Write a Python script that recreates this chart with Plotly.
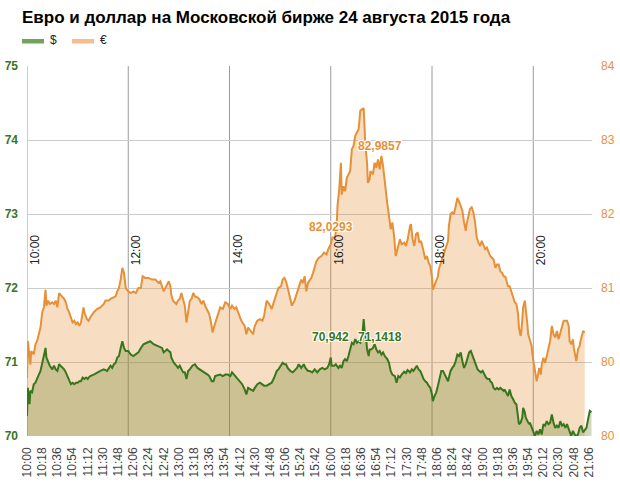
import pandas as pd
import plotly.graph_objects as go

TITLE = "Евро и доллар на Московской бирже 24 августа 2015 года"
DAY = "2015-08-24"
OPEN_TIME = "10:00"
END_TIME = "21:09:36"

# Euro/RUB: minutes after 10:00 and rate
EURO_MIN = [0, 1, 4, 5, 8, 10, 12, 14, 16, 18,
            20, 22, 23, 25, 27, 30, 32, 34, 36, 38,
            40, 42, 44, 46, 48, 50, 52, 54, 56, 58,
            60, 62, 64, 66, 67, 68, 71, 73, 75, 79,
            83, 87, 91, 93, 97, 99, 103, 105, 107, 109,
            111, 113, 115, 117, 120, 123, 126, 129, 132, 135,
            137, 140, 144, 148, 152, 156, 158, 160, 162, 166,
            168, 170, 171, 173, 177, 179, 181, 183, 185, 187,
            189, 191, 193, 195, 197, 199, 202, 204, 207, 209,
            211, 214, 216, 218, 220, 222, 225, 227, 229, 232,
            235, 238, 241, 243, 246, 248, 251, 254, 258, 260,
            262, 265, 268, 270, 273, 276, 279, 281, 284, 287,
            290, 293, 296, 298, 301, 303, 305, 307, 309, 312,
            314, 317, 320, 322, 325, 327, 329, 331, 333, 335,
            337, 339, 341, 343, 346, 349, 352, 355, 357, 360,
            362, 365, 367, 368, 370, 372, 373, 375, 377, 379,
            381, 383, 385, 387, 389, 391, 393, 394, 395, 398,
            399, 400, 401, 403, 404, 406, 407, 410, 412, 414,
            416, 418, 420, 422, 424, 425, 427, 429, 431, 433,
            435, 437, 440, 442, 444, 447, 449, 451, 454, 455,
            457, 459, 461, 463, 465, 467, 469, 471, 472, 474,
            476, 478, 480, 481, 483, 485, 487, 488, 491, 493,
            495, 496, 499, 500, 502, 504, 506, 508, 510, 512,
            514, 516, 518, 520, 521, 523, 525, 527, 529, 531,
            533, 535, 537, 539, 541, 543, 545, 547, 549, 551,
            553, 555, 557, 559, 561, 563, 565, 567, 568, 570,
            572, 574, 576, 578, 580, 582, 583, 585, 586, 588,
            590, 591, 593, 594, 596, 598, 599, 601, 602, 604,
            606, 607, 609, 610, 612, 614, 616, 618, 620, 622,
            624, 626, 628, 630, 632, 634, 636, 638, 640, 642,
            643, 645, 647, 648, 650, 651, 653, 655, 656, 658,
            659, 661]
EURO_RUB = [80.29, 80.73, 80.45, 80.61, 80.57, 80.69, 80.73, 80.81, 80.89, 81.07,
            81.13, 81.34, 81.15, 81.21, 81.17, 81.19, 81.17, 81.21, 81.13, 81.30,
            81.28, 81.26, 81.23, 81.19, 81.11, 81.07, 81.01, 80.95, 80.97, 80.93,
            80.95, 80.91, 80.95, 81.07, 81.13, 81.07, 80.99, 80.97, 81.01, 81.07,
            81.11, 81.13, 81.17, 81.21, 81.21, 81.23, 81.25, 81.26, 81.32, 81.36,
            81.46, 81.60, 81.54, 81.36, 81.32, 81.30, 81.32, 81.30, 81.36, 81.36,
            81.50, 81.48, 81.48, 81.46, 81.46, 81.42, 81.44, 81.38, 81.32, 81.40,
            81.44, 81.38, 81.28, 81.21, 81.17, 81.21, 81.23, 81.30, 81.21, 81.15,
            80.95, 81.11, 81.21, 81.23, 81.30, 81.26, 81.25, 81.23, 81.17, 81.21,
            81.15, 81.09, 81.05, 80.95, 80.83, 80.91, 81.01, 81.07, 81.13, 81.11,
            81.19, 81.17, 81.11, 81.15, 81.11, 81.13, 81.05, 80.97, 80.91, 80.81,
            80.89, 80.85, 80.81, 80.91, 80.97, 80.99, 80.97, 81.03, 81.21, 81.17,
            81.11, 81.21, 81.32, 81.36, 81.38, 81.46, 81.48, 81.44, 81.36, 81.24,
            81.15, 81.21, 81.30, 81.38, 81.46, 81.42, 81.50, 81.32, 81.42, 81.45,
            81.48, 81.54, 81.62, 81.68, 81.72, 81.74, 81.78, 81.76, 81.82, 81.88,
            81.96, 81.96, 82.10, 82.34, 82.53, 82.85, 82.47, 82.57, 82.51, 82.67,
            82.71, 82.75, 83.01, 83.05, 83.17, 83.21, 83.25, 83.35, 83.47, 83.49,
            83.50, 83.29, 83.05, 82.85, 82.61, 82.65, 82.75, 82.71, 82.85, 82.79,
            82.89, 82.77, 82.93, 82.81, 82.63, 82.49, 82.36, 82.22, 82.06, 82.14,
            81.98, 81.74, 81.86, 81.94, 81.88, 81.90, 81.86, 81.93, 82.10, 82.12,
            81.94, 81.86, 82.00, 82.02, 81.90, 81.92, 81.84, 81.72, 81.70, 81.74,
            81.66, 81.62, 81.48, 81.34, 81.40, 81.46, 81.50, 81.58, 81.68, 81.74,
            81.80, 81.84, 81.92, 82.10, 82.24, 82.26, 82.24, 82.33, 82.43, 82.39,
            82.33, 82.28, 82.14, 82.04, 82.12, 82.22, 82.30, 82.32, 82.26, 82.14,
            81.96, 81.90, 81.86, 81.92, 81.86, 81.82, 81.84, 81.78, 81.74, 81.72,
            81.70, 81.60, 81.64, 81.64, 81.56, 81.54, 81.50, 81.49, 81.44, 81.38,
            81.38, 81.32, 81.25, 81.19, 81.17, 81.05, 80.89, 80.79, 80.85, 81.13,
            81.21, 81.13, 80.93, 80.81, 80.73, 80.67, 80.57, 80.45, 80.37, 80.25,
            80.35, 80.41, 80.33, 80.45, 80.53, 80.47, 80.55, 80.63, 80.73, 80.91,
            80.81, 80.77, 80.85, 80.75, 80.83, 80.89, 80.97, 80.97, 80.97, 80.91,
            80.73, 80.69, 80.75, 80.65, 80.51, 80.49, 80.63, 80.67, 80.73, 80.83,
            80.85, 80.83]

# USD/RUB: minutes after 10:00 and rate
USD_MIN = [0, 1, 3, 4, 6, 8, 10, 12, 14, 16,
           18, 20, 22, 23, 25, 27, 30, 32, 34, 36,
           38, 40, 42, 44, 46, 48, 50, 52, 54, 56,
           58, 60, 62, 64, 66, 68, 70, 72, 73, 75,
           79, 83, 87, 91, 95, 99, 101, 103, 105, 107,
           109, 111, 113, 115, 117, 120, 123, 126, 129, 132,
           135, 138, 142, 146, 150, 154, 158, 160, 162, 166,
           168, 170, 171, 174, 177, 179, 181, 183, 185, 187,
           189, 191, 193, 196, 199, 202, 205, 208, 211, 214,
           216, 219, 221, 223, 226, 229, 232, 235, 238, 241,
           243, 247, 250, 252, 255, 258, 260, 262, 266, 268,
           270, 273, 276, 278, 281, 284, 287, 290, 293, 296,
           298, 301, 303, 305, 307, 309, 312, 315, 317, 320,
           322, 325, 328, 330, 333, 335, 338, 341, 344, 347,
           350, 353, 356, 358, 360, 361, 364, 366, 369, 371,
           373, 375, 377, 379, 381, 383, 385, 387, 389, 391,
           393, 395, 397, 398, 399, 400, 402, 403, 405, 406,
           408, 410, 412, 414, 416, 418, 420, 422, 424, 427,
           429, 431, 433, 436, 438, 440, 442, 444, 447, 449,
           451, 454, 456, 458, 460, 462, 464, 466, 468, 470,
           472, 474, 476, 478, 480, 481, 483, 485, 487, 489,
           491, 493, 495, 497, 499, 500, 502, 504, 506, 508,
           510, 512, 514, 516, 518, 520, 522, 524, 526, 528,
           530, 532, 534, 536, 538, 540, 542, 544, 546, 548,
           549, 551, 553, 555, 557, 559, 561, 563, 565, 566,
           568, 570, 572, 574, 576, 578, 580, 582, 583, 585,
           587, 588, 590, 591, 593, 595, 596, 598, 600, 602,
           604, 606, 608, 610, 612, 614, 616, 618, 620, 622,
           624, 626, 628, 630, 632, 634, 636, 638, 640, 642,
           644, 645, 647, 649, 651, 653, 655, 657, 659, 661,
           663, 665, 667, 669]
USD_RUB = [70.27, 70.65, 70.43, 70.61, 70.59, 70.70, 70.72, 70.79, 70.83, 70.88,
           70.99, 71.06, 71.19, 71.06, 71.01, 70.95, 70.90, 70.95, 70.90, 70.88,
           70.97, 70.95, 70.92, 70.90, 70.86, 70.81, 70.77, 70.70, 70.72, 70.70,
           70.72, 70.72, 70.74, 70.74, 70.79, 70.77, 70.79, 70.77, 70.79, 70.81,
           70.83, 70.86, 70.88, 70.90, 70.88, 70.95, 70.92, 70.97, 70.99, 71.06,
           71.08, 71.19, 71.28, 71.19, 71.15, 71.15, 71.10, 71.08, 71.10, 71.13,
           71.19, 71.24, 71.26, 71.28, 71.24, 71.22, 71.19, 71.19, 71.13, 71.17,
           71.15, 71.13, 71.06, 70.99, 70.95, 70.92, 70.95, 70.90, 70.86, 70.86,
           70.77, 70.88, 70.90, 70.95, 70.97, 70.92, 70.90, 70.88, 70.86, 70.83,
           70.81, 70.74, 70.74, 70.81, 70.82, 70.83, 70.81, 70.83, 70.83, 70.81,
           70.86, 70.81, 70.76, 70.74, 70.70, 70.63, 70.56, 70.65, 70.63, 70.61,
           70.65, 70.70, 70.72, 70.70, 70.68, 70.68, 70.70, 70.72, 70.79, 70.88,
           70.90, 70.95, 70.99, 70.97, 70.97, 70.92, 70.88, 70.86, 70.88, 70.92,
           70.97, 70.92, 70.97, 70.92, 70.88, 70.88, 70.86, 70.90, 70.86, 70.90,
           70.92, 70.90, 70.92, 70.97, 71.06, 70.95, 70.95, 70.97, 70.92, 70.95,
           70.92, 71.01, 71.04, 71.01, 71.08, 71.17, 71.26, 71.24, 71.31, 71.26,
           71.28, 71.26, 71.33, 71.44, 71.58, 71.44, 71.31, 71.17, 71.08, 71.17,
           71.17, 71.19, 71.24, 71.17, 71.13, 71.15, 71.10, 71.13, 71.08, 71.04,
           70.99, 70.88, 70.83, 70.81, 70.72, 70.81, 70.79, 70.83, 70.87, 70.85,
           70.89, 70.86, 70.90, 70.88, 70.92, 70.95, 70.90, 70.88, 70.83, 70.77,
           70.74, 70.72, 70.68, 70.65, 70.56, 70.47, 70.54, 70.59, 70.68, 70.79,
           70.88, 70.88, 70.83, 70.79, 70.74, 70.79, 70.88, 70.92, 70.95, 71.01,
           71.10, 71.08, 71.13, 71.01, 70.92, 70.97, 71.06, 71.13, 71.15, 71.08,
           71.04, 70.97, 70.90, 70.88, 70.86, 70.88, 70.83, 70.79, 70.77, 70.77,
           70.74, 70.72, 70.65, 70.63, 70.65, 70.63, 70.65, 70.63, 70.61, 70.63,
           70.59, 70.54, 70.63, 70.54, 70.50, 70.45, 70.43, 70.29, 70.16, 70.18,
           70.25, 70.38, 70.32, 70.25, 70.20, 70.16, 70.18, 70.11, 70.07, 70.00,
           70.07, 70.02, 70.09, 70.02, 70.16, 70.14, 70.20, 70.16, 70.18, 70.29,
           70.18, 70.11, 70.14, 70.11, 70.20, 70.14, 70.16, 70.11, 70.16, 70.09,
           70.02, 70.00, 70.07, 70.02, 70.00, 70.02, 70.11, 70.14, 70.05, 70.09,
           70.11, 70.23, 70.34, 70.32]

X_TICK_LABELS = ["10:00", "10:18", "10:36", "10:54", "11:12", "11:30", "11:48",
                 "12:06", "12:24", "12:42", "13:00", "13:18", "13:36", "13:54",
                 "14:12", "14:30", "14:48", "15:06", "15:24", "15:42", "16:00",
                 "16:18", "16:36", "16:54", "17:12", "17:30", "17:48", "18:06",
                 "18:24", "18:42", "19:00", "19:18", "19:36", "19:54", "20:12",
                 "20:30", "20:48", "21:06"]
HOUR_MARKS = ["10:00", "12:00", "14:00", "16:00", "18:00", "20:00"]

USD_RANGE = [70, 75]
USD_TICKS = [70, 71, 72, 73, 74, 75]
EUR_RANGE = [79.6, 84]
EUR_TICK_LABELS = ["80", "80", "81", "82", "83", "84"]

# point labels
EUR_LABEL_TIMES = ["16:00", "16:58"]
EUR_LABEL_VALUES = [82.0293, 82.9857]
USD_LABEL_TIMES = ["16:00", "16:58"]
USD_LABEL_VALUES = [70.942, 71.1418]

# ---------------- styling ----------------
FONT = "Arial, 'Liberation Sans', sans-serif"
USD_COLOR = "#38761d"
EUR_COLOR = "#e69138"
W, H = 620, 490
ML, MR, MT, MB = 27, 28, 66, 54
PW, PH = W - ML - MR, H - MT - MB


def px_x(p):
    return (p - ML) / PW


def px_y(p):
    return (H - MB - p) / PH


def to_time(minutes):
    base = pd.Timestamp(f"{DAY} {OPEN_TIME}")
    return [base + pd.Timedelta(minutes=m) for m in minutes]


def hm(label):
    return pd.Timestamp(f"{DAY} {label}")


fig = go.Figure()

fig.add_trace(go.Scatter(
    x=to_time(EURO_MIN), y=EURO_RUB, name="€", yaxis="y",
    mode="lines", line=dict(color=EUR_COLOR, width=2),
    fill="tozeroy", fillcolor="rgba(230,145,56,0.3)",
    hoverinfo="x+y", showlegend=False))

fig.add_trace(go.Scatter(
    x=to_time(USD_MIN), y=USD_RUB, name="$", yaxis="y2",
    mode="lines", line=dict(color=USD_COLOR, width=2),
    fill="tozeroy", fillcolor="rgba(106,125,38,0.3)",
    hoverinfo="x+y", showlegend=False))

n = len(EUR_TICK_LABELS)
eur_tickvals = [EUR_RANGE[0] + i * (EUR_RANGE[1] - EUR_RANGE[0]) / (n - 1) for i in range(n)]

shapes = []
annotations = []

# vertical hour lines with rotated labels
for t in HOUR_MARKS:
    shapes.append(dict(type="line", xref="x", yref="paper", x0=hm(t), x1=hm(t),
                       y0=0, y1=1, line=dict(color="#9a9a9a", width=1), layer="below"))
    annotations.append(dict(x=hm(t), y=px_y(250), xref="x", yref="paper",
                            text=t, showarrow=False, textangle=-90,
                            xanchor="center", yanchor="middle", xshift=8,
                            font=dict(family=FONT, size=12, color="#222")))

halo = "-1px -1px 0 #fff, 1px -1px 0 #fff, -1px 1px 0 #fff, 1px 1px 0 #fff"
eur_shifts = [5, 5]
usd_shifts = [29, 15]
for t, v, s in zip(EUR_LABEL_TIMES, EUR_LABEL_VALUES, eur_shifts):
    annotations.append(dict(x=hm(t), y=v, xref="x", yref="y",
                            text=f"<b>{str(v).replace('.', ',')}</b>", showarrow=False,
                            xanchor="center", yanchor="middle", yshift=s,
                            font=dict(family=FONT, size=12, color=EUR_COLOR, shadow=halo)))
for t, v, s in zip(USD_LABEL_TIMES, USD_LABEL_VALUES, usd_shifts):
    annotations.append(dict(x=hm(t), y=v, xref="x", yref="y2",
                            text=f"<b>{str(v).replace('.', ',')}</b>", showarrow=False,
                            xanchor="center", yanchor="middle", yshift=s,
                            font=dict(family=FONT, size=12, color=USD_COLOR, shadow=halo)))

# legend (manual)
for (x0, x1, col, label, tx) in [(22, 44, "#6ea55a", "$", 48), (72, 94, "#f5be8c", "€", 98)]:
    shapes.append(dict(type="rect", xref="paper", yref="paper",
                       x0=px_x(x0), x1=px_x(x1), y0=px_y(43.5), y1=px_y(39),
                       fillcolor=col, line=dict(width=0)))
    annotations.append(dict(x=px_x(tx), y=px_y(40.5), xref="paper", yref="paper",
                            text=label, showarrow=False, xanchor="left", yanchor="middle",
                            font=dict(family=FONT, size=12, color="#222")))

fig.update_layout(
    template="none",
    width=W, height=H,
    margin=dict(l=ML, r=MR, t=MT, b=MB, pad=0),
    paper_bgcolor="white", plot_bgcolor="white",
    font=dict(family=FONT, size=12, color="#222"),
    title=dict(text=f"<b>{TITLE}</b>", xref="container", yref="container",
               x=22 / W, xanchor="left", y=1 - 17 / H, yanchor="middle",
               font=dict(family=FONT, size=17, color="#000")),
    showlegend=False,
    xaxis=dict(type="date", range=[hm(OPEN_TIME), hm(END_TIME)], automargin=False,
               tickvals=[hm(t) for t in X_TICK_LABELS], ticktext=X_TICK_LABELS,
               tickangle=-90, tickfont=dict(family=FONT, size=12, color="#444"),
               showgrid=False, zeroline=False, showline=False, ticks="",
               ticklabelstandoff=8),
    yaxis=dict(side="right", range=EUR_RANGE, tickvals=eur_tickvals, automargin=False,
               ticktext=EUR_TICK_LABELS, showgrid=True, gridcolor="#cccccc",
               gridwidth=1, zeroline=False, showline=False, ticks="",
               tickfont=dict(family=FONT, size=12, color=EUR_COLOR),
               ticklabelstandoff=8),
    yaxis2=dict(side="left", overlaying="y", range=USD_RANGE, tickvals=USD_TICKS,
                automargin=False,
                ticktext=[str(v) for v in USD_TICKS], showgrid=False, zeroline=False,
                showline=False, ticks="",
                tickfont=dict(family=FONT, size=12, color=USD_COLOR, weight="bold"),
                ticklabelstandoff=8),
    shapes=shapes,
    annotations=annotations,
)

fig.write_html("out.html", config={"displayModeBar": False},
               post_script="document.body.style.margin='0';")
